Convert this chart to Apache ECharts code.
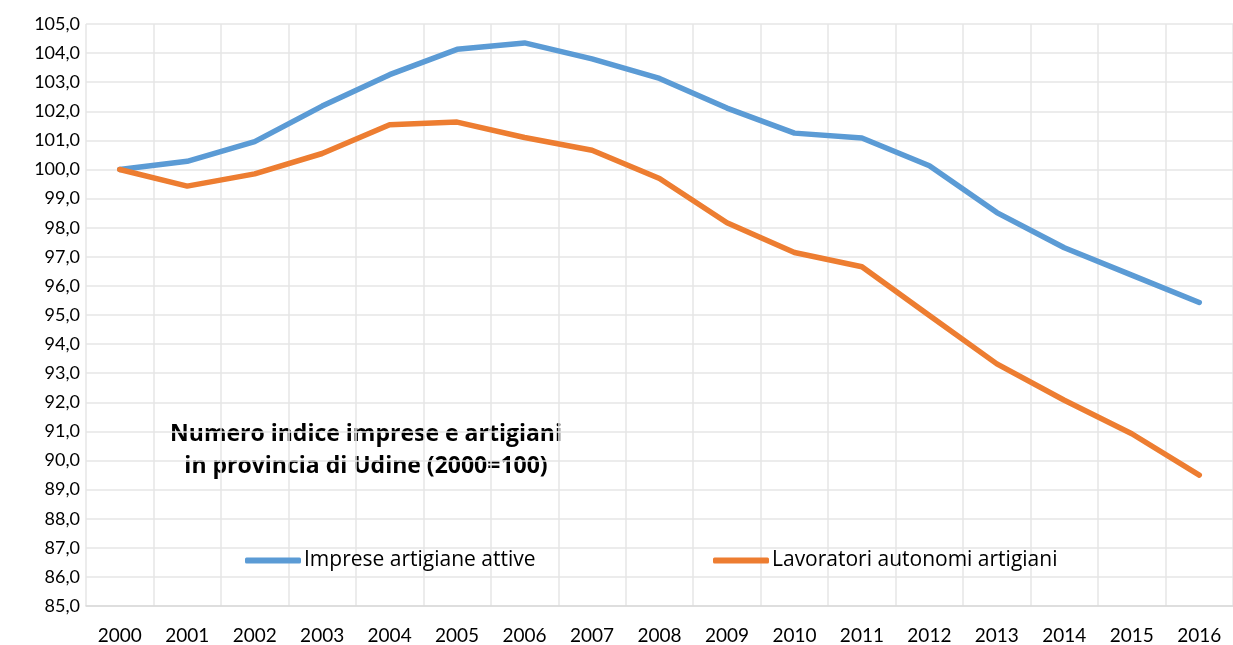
<!DOCTYPE html>
<html>
<head>
<meta charset="utf-8">
<script src="https://cdn.jsdelivr.net/npm/echarts@6/dist/echarts.min.js"></script>
<style>
  html, body { margin: 0; padding: 0; background: #fff; }
  #chart { width: 1233px; height: 645px; }
</style>
</head>
<body>
<div id="chart"></div>
<script>
// anni (asse x)
const years = ['2000', '2001', '2002', '2003', '2004', '2005', '2006', '2007', '2008',
    '2009', '2010', '2011', '2012', '2013', '2014', '2015', '2016'];

// numero indice, 2000 = 100
const impreseAttive = [100.0, 100.28, 100.96, 102.18, 103.26, 104.13, 104.35, 103.8, 103.13,
    102.11, 101.25, 101.08, 100.13, 98.52, 97.31, 96.37, 95.43];
const lavoratoriAutonomi = [100.0, 99.43, 99.85, 100.55, 101.54, 101.63, 101.1, 100.66, 99.69,
    98.17, 97.15, 96.66, 94.98, 93.32, 92.07, 90.92, 89.5];

const seriesNames = ['Imprese artigiane attive', 'Lavoratori autonomi artigiani'];
const titleLines = ['Numero indice imprese e artigiani', 'in provincia di Udine (2000=100)'];

const FONT = 'Lato, "Open Sans", sans-serif';
const WIDE = '"Open Sans", Lato, sans-serif';
const chart = echarts.init(document.getElementById('chart'));

chart.setOption({
    animation: false,
    grid: { left: 86, width: 1156, top: 24, bottom: 39 },
    xAxis: {
        type: 'category',
        data: years,
        boundaryGap: true,
        axisLine: { lineStyle: { color: '#d9d9d9', width: 1.5 } },
        axisTick: { show: false },
        axisLabel: { color: '#000', fontSize: 19, fontFamily: FONT, margin: 20 },
        splitLine: { show: true, lineStyle: { color: '#e6e6e6', width: 1.5 } }
    },
    yAxis: {
        type: 'value',
        min: 85,
        max: 105,
        interval: 1,
        axisLine: { show: false },
        axisTick: { show: false },
        axisLabel: {
            color: '#000', fontSize: 18, fontFamily: FONT, margin: 6,
            formatter: v => v.toFixed(1).replace('.', ',')
        },
        splitLine: { lineStyle: { color: '#e6e6e6', width: 1.5 } }
    },
    legend: [
        {
            data: [seriesNames[0]], left: 240, top: 545,
            icon: 'roundRect', itemWidth: 56, itemHeight: 6, itemGap: 4,
            textStyle: { fontSize: 21, fontFamily: WIDE, color: '#000', padding: [0, 0, 0, -2] }
        },
        {
            data: [seriesNames[1]], left: 708, top: 545,
            icon: 'roundRect', itemWidth: 56, itemHeight: 6, itemGap: 4,
            textStyle: { fontSize: 21, fontFamily: WIDE, color: '#000', padding: [0, 0, 0, -2] }
        }
    ],
    graphic: [{
        type: 'text',
        x: 366,
        y: 418,
        style: {
            text: titleLines.join('\n'),
            font: 'bold 23px ' + WIDE,
            fill: '#000',
            align: 'center',
            verticalAlign: 'top',
            lineHeight: 32
        }
    }],
    series: [
        {
            name: seriesNames[0], type: 'line', data: impreseAttive,
            symbol: 'none', color: '#5b9bd5',
            lineStyle: { width: 5.5, cap: 'round', join: 'round' }
        },
        {
            name: seriesNames[1], type: 'line', data: lavoratoriAutonomi,
            symbol: 'none', color: '#ed7d31',
            lineStyle: { width: 5.5, cap: 'round', join: 'round' }
        }
    ]
});
</script>
</body>
</html>
